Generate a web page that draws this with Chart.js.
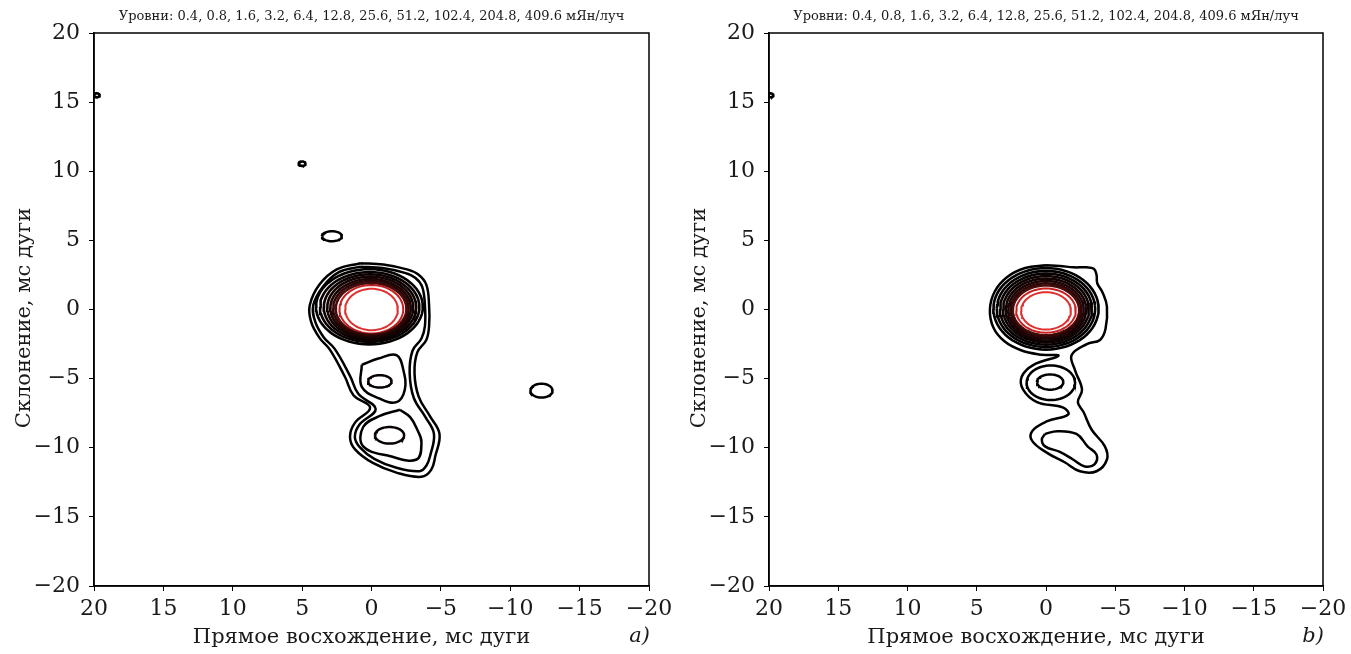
<!DOCTYPE html>
<html>
<head>
<meta charset="utf-8">
<script src="https://cdn.jsdelivr.net/npm/chart.js@4.4.1/dist/chart.umd.min.js"></script>
<style>
  body { margin: 0; background: #fff; width: 1351px; height: 654px; overflow: hidden; position: relative; }
  canvas { position: absolute; top: 0; }
  #chartA { left: 0; }
  #chartB { left: 675px; }
</style>
</head>
<body>
<canvas id="chartA" width="675" height="654"></canvas>
<canvas id="chartB" width="676" height="654"></canvas>
<script>
// contour levels, mJy/beam, and the colour of each level (black -> red)
const levels = [0.4, 0.8, 1.6, 3.2, 6.4, 12.8, 25.6, 51.2, 102.4, 204.8, 409.6];
const levelColors = ["#000000", "#000000", "#030000", "#070101", "#0c0202", "#140303", "#1e0505", "#2e0707", "#4a0b0b", "#c42020", "#e03030"];
const axisTicks = [-20, -15, -10, -5, 0, 5, 10, 15, 20];

// ---- panel a ----
// core rings (levels 1.6 ... 409.6): centre and semi-axes, mas
const coreLevA = [1.6, 3.2, 6.4, 12.8, 25.6, 51.2, 102.4, 204.8, 409.6];
const coreCxA = [0.15, 0.13, 0.11, 0.09, 0.07, 0.05, 0.03, 0.01, 0];
const coreCyA = [0.2, 0.18, 0.16, 0.14, 0.11, 0.08, 0.05, 0.02, 0];
const coreRxA = [3.85, 3.58, 3.33, 3.1, 2.9, 2.72, 2.55, 2.3, 1.9];
const coreRyA = [2.72, 2.53, 2.38, 2.24, 2.1, 1.98, 1.87, 1.75, 1.5];

// jet knots at 3.2 mJy/beam
const knotXA = [-0.6, -1.3];
const knotYA = [-5.2, -9.1];
const knotRxA = [0.85, 1.05];
const knotRyA = [0.45, 0.6];

// isolated 0.4 mJy/beam spots
const spotXA = [19.8, 5.0, 2.85, -12.25];
const spotYA = [15.5, 10.55, 5.3, -5.87];
const spotRxA = [0.22, 0.25, 0.72, 0.8];
const spotRyA = [0.14, 0.16, 0.36, 0.5];

// outer contours (RA, Dec)
const a04 = [[0.8,3.35],[-0.85,3.25],[-2.55,2.9],[-3.35,2.55],[-3.95,1.8],[-4.15,0.3],[-4.15,-1.2],[-3.95,-2.2],[-3.3,-3.1],[-3.1,-4.6],[-3.4,-6.3],[-4.2,-7.7],[-4.9,-9.0],[-4.6,-10.6],[-4.3,-11.6],[-3.6,-12.1],[-1.8,-11.8],[-0.1,-11.1],[1.2,-10.1],[1.55,-9.2],[1.2,-8.2],[0.1,-7.1],[1.3,-6.2],[1.9,-4.9],[3.0,-2.9],[3.75,-2.05],[4.35,-0.9],[4.45,0.3],[3.75,1.8],[2.5,2.9],[0.8,3.35]];
const a08 = [[0.8,3.1],[-0.8,3.0],[-2.4,2.65],[-3.15,2.3],[-3.65,1.65],[-3.85,0.3],[-3.85,-1.2],[-3.6,-2.1],[-2.95,-3.0],[-2.75,-4.6],[-3.05,-6.4],[-3.9,-7.8],[-4.5,-9.0],[-4.25,-10.5],[-3.95,-11.3],[-3.45,-11.7],[-1.8,-11.45],[-0.2,-10.8],[0.85,-9.95],[1.2,-9.2],[0.85,-8.3],[-0.3,-7.2],[0.95,-6.1],[1.55,-4.8],[2.65,-2.85],[3.45,-2.0],[4.05,-0.9],[4.2,0.3],[3.5,1.65],[2.35,2.7],[0.8,3.1]];
const a16up = [[0.7,-4.0],[-0.5,-3.55],[-1.8,-3.3],[-2.3,-4.4],[-2.4,-5.8],[-1.8,-6.7],[-0.6,-6.45],[0.7,-5.6],[0.7,-4.0]];
const a16low = [[-2.05,-7.25],[-2.8,-7.8],[-3.3,-8.7],[-3.6,-9.6],[-3.25,-10.85],[-1.3,-10.6],[0.6,-9.9],[0.6,-8.5],[-0.6,-7.7],[-2.05,-7.25]];

// ---- panel b ----
const coreLevB = [0.8, 1.6, 3.2, 6.4, 12.8, 25.6, 51.2, 102.4, 204.8, 409.6];
const coreCxB = [0, 0, 0, 0, 0, 0, 0, 0, 0, 0];
const coreCyB = [0.05, 0.04, 0.03, 0.02, 0, -0.02, -0.04, -0.06, -0.08, -0.1];
const coreRxB = [3.8, 3.55, 3.32, 3.1, 2.9, 2.72, 2.55, 2.4, 2.15, 1.8];
const coreRyB = [2.95, 2.75, 2.57, 2.4, 2.24, 2.08, 1.93, 1.8, 1.6, 1.35];

const knotLevB = [0.8, 1.6];
const knotXB = [-0.35, -0.3];
const knotYB = [-5.3, -5.25];
const knotRxB = [1.75, 0.95];
const knotRyB = [1.25, 0.55];

const spotXB = [19.9];
const spotYB = [15.5];
const spotRxB = [0.22];
const spotRyB = [0.14];

const b04 = [[0.0,3.2],[1.5,3.0],[2.8,2.35],[3.7,1.3],[4.05,0.0],[3.8,-1.3],[3.0,-2.3],[1.8,-2.95],[0.5,-3.25],[-0.9,-3.35],[0.9,-4.0],[1.75,-4.85],[1.65,-5.8],[0.65,-6.7],[-1.25,-7.1],[-1.6,-7.6],[-0.05,-8.1],[1.0,-8.8],[1.0,-9.5],[-0.05,-10.35],[-1.35,-11.05],[-2.45,-11.7],[-3.65,-11.7],[-4.4,-10.85],[-4.25,-9.9],[-3.3,-8.7],[-2.7,-7.4],[-2.3,-6.7],[-2.6,-5.8],[-2.1,-4.4],[-1.85,-3.3],[-2.95,-2.5],[-3.9,-2.2],[-4.3,-1.4],[-4.4,0.2],[-4.1,1.2],[-3.7,1.9],[-3.65,2.5],[-3.45,2.95],[-2.9,3.05],[-2.0,3.05],[-1.0,3.15],[0.0,3.2]];
const b08low = [[0.07,-9.0],[-0.8,-8.8],[-2.2,-9.0],[-3.0,-9.9],[-3.65,-10.5],[-3.5,-11.2],[-2.8,-11.35],[-1.95,-10.85],[-1.0,-10.3],[0.07,-9.9],[0.3,-9.4],[0.07,-9.0]];

const levelTitle = "Уровни: " + levels.join(", ") + " мЯн/луч";
const serif = "'DejaVu Serif', 'Liberation Serif', serif";

const ellipse = (cx, cy, rx, ry) => {
  let pts = [];
  for (let i = 0; i <= 64; i++) {
    let t = (i / 64) * 2 * Math.PI;
    pts.push({ x: cx + rx * Math.cos(t), y: cy + ry * Math.sin(t) });
  }
  return pts;
};

const colorOf = (lev) => levelColors[levels.indexOf(lev)];

const contour = (pts, lev, width, smooth) => ({
  data: pts.map((p) => (Array.isArray(p) ? { x: p[0], y: p[1] } : p)),
  borderColor: colorOf(lev),
  borderWidth: lev > 150 ? 2 : width,
  showLine: true,
  fill: false,
  pointRadius: 0,
  tension: smooth ? 0.4 : 0,
});

const ellipses = (lev, xs, ys, rxs, rys, width) =>
  xs.map((x, i) => contour(ellipse(x, ys[i], rxs[i], rys[i]), Array.isArray(lev) ? lev[i] : lev, width, false));

let setA = [
  ...ellipses(coreLevA, coreCxA, coreCyA, coreRxA, coreRyA, 2.6),
  ...ellipses(3.2, knotXA, knotYA, knotRxA, knotRyA, 2.5),
  ...ellipses(0.4, spotXA, spotYA, spotRxA, spotRyA, 2.5),
  contour(a04, 0.4, 2.5, true),
  contour(a08, 0.8, 2.5, true),
  contour(a16up, 1.6, 2.5, true),
  contour(a16low, 1.6, 2.5, true),
];

let setB = [
  ...ellipses(coreLevB, coreCxB, coreCyB, coreRxB, coreRyB, 2.6),
  ...ellipses(knotLevB, knotXB, knotYB, knotRxB, knotRyB, 2.5),
  ...ellipses(0.4, spotXB, spotYB, spotRxB, spotRyB, 2.5),
  contour(b04, 0.4, 2.5, true),
  contour(b08low, 0.8, 2.5, true),
];

const minus = (v) => (v < 0 ? "\u2212" + Math.abs(v) : String(v));

const framePlugin = {
  id: "frame",
  afterDraw(chart, args, opts) {
    const { ctx, chartArea: ca } = chart;
    ctx.save();
    ctx.strokeStyle = "#000";
    ctx.lineWidth = 1.5;
    ctx.strokeRect(ca.left, ca.top, ca.right - ca.left, ca.bottom - ca.top);
    ctx.fillStyle = "#1a1a1a";
    ctx.textBaseline = "middle";
    ctx.font = "21px " + serif;
    ctx.textAlign = "center";
    ctx.fillText("Прямое восхождение, мс дуги", (ca.left + ca.right) / 2 - 10, 638);
    ctx.font = "italic 21px " + serif;
    ctx.textAlign = "right";
    ctx.fillText(opts.tag, ca.right + 1, 637);
    ctx.translate(25, 318);
    ctx.rotate(-Math.PI / 2);
    ctx.font = "21px " + serif;
    ctx.textAlign = "center";
    ctx.fillText("Склонение, мс дуги", 0, 0);
    ctx.restore();
  },
};

const makeChart = (id, datasets, tag, padRight) =>
  new Chart(id, {
    type: "scatter",
    data: { datasets },
    options: {
      responsive: false,
      animation: false,
      events: [],
      layout: { padding: { left: 0, right: padRight, top: 0, bottom: 0 } },
      plugins: {
        legend: { display: false },
        tooltip: { enabled: false },
        title: {
          display: true,
          text: levelTitle,
          fullSize: false,
          color: "#1a1a1a",
          font: { family: serif, size: 13, weight: "normal" },
          padding: { top: 9, bottom: 8.4 },
        },
        frame: { tag },
      },
      scales: {
        x: {
          type: "linear",
          min: -20,
          max: 20,
          reverse: true,
          afterFit: (s) => { s.height = 68; },
          afterBuildTicks: (s) => { s.ticks = axisTicks.map((v) => ({ value: v })); },
          ticks: { color: "#1a1a1a", font: { family: serif, size: 22 }, padding: 5, maxRotation: 0, autoSkip: false, callback: minus },
          grid: { drawOnChartArea: false, tickLength: 5, color: "#000" },
          border: { color: "#000", width: 1.5 },
        },
        y: {
          type: "linear",
          min: -20,
          max: 20,
          afterFit: (s) => { s.width = 94; },
          afterBuildTicks: (s) => { s.ticks = axisTicks.map((v) => ({ value: v })); },
          ticks: { color: "#1a1a1a", font: { family: serif, size: 22 }, padding: 9, autoSkip: false, callback: minus },
          grid: { drawOnChartArea: false, tickLength: 5, color: "#000" },
          border: { color: "#000", width: 1.5 },
        },
      },
    },
    plugins: [framePlugin],
  });

makeChart("chartA", setA, "a)", 26);
makeChart("chartB", setB, "b)", 28);
</script>
</body>
</html>
